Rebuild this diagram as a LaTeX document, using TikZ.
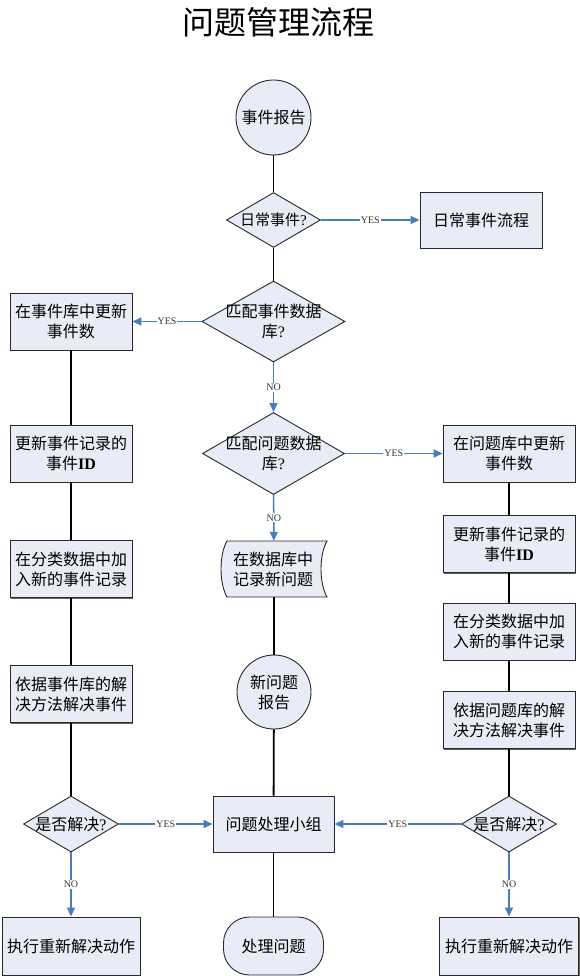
\documentclass[tikz,border=0pt]{standalone}
\usepackage{fontspec}
\setmainfont{Liberation Serif}
\newfontfamily\cjk{Noto Sans CJK SC}
\usetikzlibrary{shapes.geometric,arrows.meta,shadows}
\definecolor{fillc}{RGB}{232,236,246}
\definecolor{arrc}{RGB}{74,126,187}
\definecolor{edgec}{RGB}{40,40,40}
\tikzset{
  base/.style={draw=edgec, line width=0.9pt, fill=fillc, inner sep=0pt,
    font=\cjk\fontsize{16}{20}\selectfont, align=center},
  box/.style={base, rectangle,
    drop shadow={shadow xshift=1.3pt, shadow yshift=-1.3pt, fill=black!60, opacity=1}},
  lbox/.style={box, minimum width=122pt, minimum height=57pt},
  rbox/.style={box, minimum width=132pt, minimum height=57pt},
  circ/.style={base, circle},
  dia/.style={base, diamond},
  dtext/.style={inner sep=0pt, font=\cjk\fontsize{16}{20}\selectfont, align=center},
  plain/.style={inner sep=0pt, minimum width=106pt, minimum height=56pt},
  blk/.style={draw=black, line width=1.8pt},
  arr/.style={draw=arrc, line width=1.5pt, -{Triangle[length=9pt,width=8pt]}},
  lab/.style={fill=white, inner sep=1pt, text=black!80, font=\fontsize{10}{12}\selectfont},
}
\newcommand{\qm}{{\rmfamily ?}}
\newcommand{\ID}{{\rmfamily\bfseries ID}}
\begin{document}
\begin{tikzpicture}[x=1pt,y=-1pt]
\useasboundingbox (0,0) rectangle (580,976);
% title
\node[font=\cjk\fontsize{32}{36}\selectfont, inner sep=0pt] (title) at (278,22) {问题管理流程};
% center column
\node[circ, minimum size=75pt] (e1) at (273.5,117.5) {事件报告};
\node[dia, minimum width=94pt, minimum height=55pt] (d1) at (273.5,220) {};
\node[dtext, font=\cjk\fontsize{15}{19}\selectfont] (d1t) at (273.5,220) {日常事件\qm};
\node[box, minimum width=122pt, minimum height=56pt] (ev) at (481,220) {日常事件流程};
\node[dia, minimum width=143pt, minimum height=81pt] (d2) at (273.5,321.5) {};
\node[dtext] (d2t) at (273.5,321.5) {匹配事件数据\\库\qm};
\node[dia, minimum width=142pt, minimum height=82pt] (d3) at (273.5,453.5) {};
\node[dtext] (d3t) at (273.5,453.5) {匹配问题数据\\库\qm};
\node[plain] (tape) at (274,569) {};
\path[base] (227,541) -- (327,541) .. controls (319,555) and (319,583) .. (327,597)
  -- (227,597) .. controls (219,583) and (219,555) .. (227,541) -- cycle;
\node[dtext] (tapet) at (273,569) {在数据库中\\记录新问题};
\node[circ, minimum size=74pt] (c2) at (274,692) {新问题\\报告};
\node[box, minimum width=121pt, minimum height=56pt] (team) at (273.5,824) {问题处理小组};
\node[base, rectangle, rounded corners=26pt, minimum width=100pt, minimum height=58pt] (term) at (273.5,946) {处理问题};
% left column
\node[lbox] (L1) at (71,321.5) {在事件库中更新\\事件数};
\node[lbox] (L2) at (71,453.5) {更新事件记录的\\事件\ID};
\node[lbox] (L3) at (71,569) {在分类数据中加\\入新的事件记录};
\node[lbox] (L4) at (71,694) {依据事件库的解\\决方法解决事件};
\node[dia, minimum width=95pt, minimum height=56pt] (dL) at (71,824) {};
\node[dtext] (dLt) at (71,824) {是否解决\qm};
\node[box, minimum width=138pt, minimum height=58pt] (BL) at (71,946) {执行重新解决动作};
% right column
\node[rbox] (R1) at (509,453.5) {在问题库中更新\\事件数};
\node[rbox] (R2) at (509,544) {更新事件记录的\\事件\ID};
\node[rbox] (R3) at (509,631.5) {在分类数据中加\\入新的事件记录};
\node[rbox] (R4) at (509,720) {依据问题库的解\\决方法解决事件};
\node[dia, minimum width=95pt, minimum height=56pt] (dR) at (509,824) {};
\node[dtext] (dRt) at (509,824) {是否解决\qm};
\node[box, minimum width=139pt, minimum height=58pt] (BR) at (509,946) {执行重新解决动作};
% black connectors
\draw[blk] (e1) -- (d1);
\draw[blk] (d1) -- (d2);
\draw[blk] (tape) -- (c2);
\draw[blk] (c2) -- (team);
\draw[blk] (team) -- (term);
\draw[blk] (L1) -- (L2);
\draw[blk] (L2) -- (L3);
\draw[blk] (L3) -- (L4);
\draw[blk] (L4) -- (dL);
\draw[blk] (R1) -- (R2);
\draw[blk] (R2) -- (R3);
\draw[blk] (R3) -- (R4);
\draw[blk] (R4) -- (dR);
% blue arrows
\draw[arr] (d1) -- node[lab] {YES} (ev);
\draw[arr] (d2) -- node[lab] {YES} (L1);
\draw[arr] (d2) -- node[lab] {NO} (d3);
\draw[arr] (d3) -- node[lab] {YES} (R1);
\draw[arr] (d3) -- node[lab] {NO} (tape);
\draw[arr] (dL) -- node[lab] {YES} (team);
\draw[arr] (dR) -- node[lab] {YES} (team);
\draw[arr] (dL) -- node[lab] {NO} (BL);
\draw[arr] (dR) -- node[lab] {NO} (BR);
\end{tikzpicture}
\end{document}
